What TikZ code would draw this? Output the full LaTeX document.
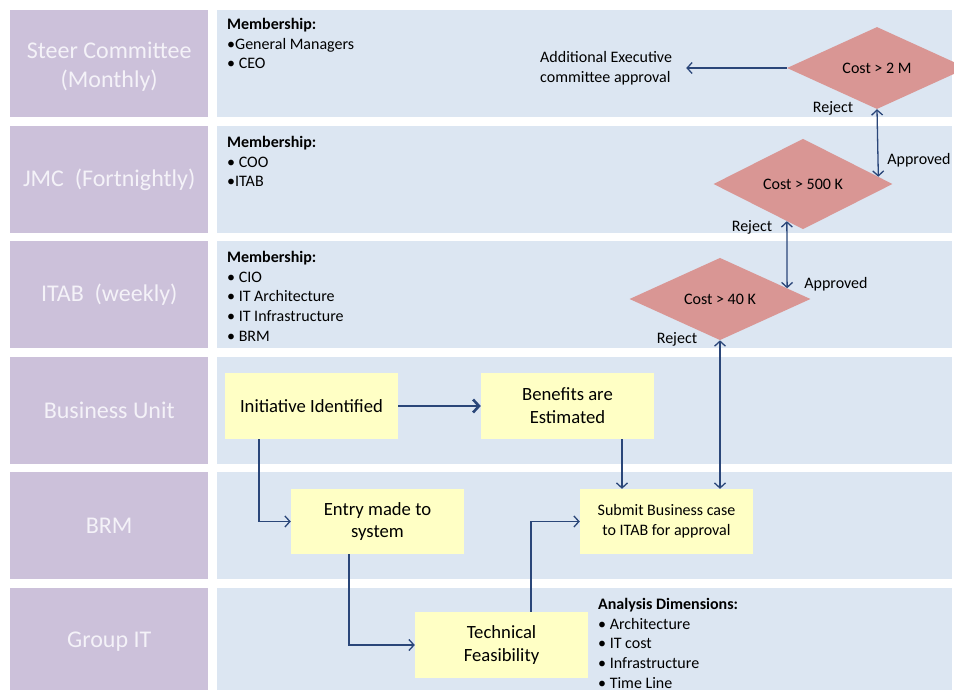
\documentclass[tikz,border=0pt]{standalone}
\usepackage{fontspec}
\setmainfont{Carlito}
\usetikzlibrary{positioning, arrows.meta, shapes.geometric, calc}
\definecolor{LaneHead}{HTML}{CCC1DA}
\definecolor{LaneBg}{HTML}{DCE6F2}
\definecolor{StepYellow}{HTML}{FFFFC5}
\definecolor{CostRed}{HTML}{D99694}
\definecolor{FlowBlue}{HTML}{2A4679}
\definecolor{HeadText}{HTML}{F4F2F8}

\begin{document}
\begin{tikzpicture}[x=1pt, y=-1pt,
            lanehead/.style={fill=LaneHead, text=HeadText, minimum width=198pt, minimum height=107pt, inner sep=0pt, align=center, font=\fontsize{24}{29}\selectfont},
            lanebg/.style={fill=LaneBg, minimum width=735pt, minimum height=107pt, inner sep=0pt},
            stepbox/.style={fill=StepYellow, minimum width=173pt, minimum height=66pt, inner sep=2pt, align=center, font=\fontsize{18.67}{22.8}\selectfont},
            costbox/.style={diamond, fill=CostRed, minimum width=180pt, minimum height=82pt, inner sep=0pt, font=\fontsize{16}{19.5}\selectfont},
            memberlist/.style={anchor=north west, inner sep=0pt, align=left, font=\fontsize{16}{19.7}\selectfont},
            smalllabel/.style={inner sep=0pt, font=\fontsize{16}{19.5}\selectfont},
            flow/.style={draw=FlowBlue, line width=1.3pt, -{Straight Barb[length=5pt, width=11pt]}},
            twoway/.style={flow, {Straight Barb[length=5pt, width=11pt]}-{Straight Barb[length=5pt, width=11pt]}}
        ]
            \useasboundingbox (0,0) rectangle (954,689);
            \clip (0,0) rectangle (954,689);

            % swim lanes
            \foreach \row/\top/\title in {steer/10/{\\[-6pt]Steer Committee\\(Monthly)}, jmc/126/{JMC\ \ (Fortnightly)}, itab/241/{ITAB\ \ (weekly)}, bu/357/{Business Unit}, brm/472/{BRM}, git/588/{Group IT}}{
                \node[lanehead, anchor=north west] (\row-head) at (10,\top) {\title};
                \node[lanebg, anchor=north west] (\row-lane) at (217,\top) {};
            }

            % who sits on each board
            \node[memberlist] (steer-members) at (227,18) {\textbf{Membership:}\\•General Managers\\• CEO};
            \node[memberlist] (jmc-members) at (227,136) {\textbf{Membership:}\\• COO\\•ITAB};
            \node[memberlist] (itab-members) at (227,251) {\textbf{Membership:}\\• CIO\\• IT Architecture\\• IT Infrastructure\\• BRM};
            \node[memberlist] (git-dims) at (598,598) {\textbf{Analysis Dimensions:}\\• Architecture\\• IT cost\\• Infrastructure\\• Time Line};

            % process steps
            \node[stepbox] (init) at (311.5,406) {Initiative Identified};
            \node[stepbox] (bene) at (567.5,406) {Benefits are\\Estimated};
            \node[stepbox, minimum height=65pt] (entry) at (377.5,521.5) {Entry made to\\system};
            \node[stepbox, minimum height=65pt, font=\fontsize{16}{20}\selectfont] (submit) at (666.5,521.5) {Submit Business case\\to ITAB for approval};
            \node[stepbox] (tech) at (501.5,645) {Technical\\Feasibility};

            % approval thresholds
            \node[costbox, minimum width=181pt] (d40) at (720,299) {Cost > 40 K};
            \node[costbox, minimum width=179pt] (d500) at (803,184) {Cost > 500 K};
            \node[costbox] (d2m) at (877,68) {Cost > 2 M};
            \node[smalllabel, anchor=west, align=left] (exec) at (540,68) {Additional Executive\\committee approval};

            % connectors
            \draw[flow, line width=2.6pt, -{Straight Barb[length=6pt, width=13pt]}] (init.east) -- (bene.west);
            \draw[flow] ([xshift=-52.5pt]init.south) |- (entry.west);
            \draw[flow] ([xshift=54.5pt]bene.south) -- ([xshift=54.5pt]bene.south |- submit.north);
            \draw[flow] ([xshift=-28.5pt]entry.south) |- (tech.west);
            \draw[flow] ([xshift=29.5pt]tech.north) |- (submit.west);
            \draw[twoway] (d40.south) -- (d40.south |- submit.north);
            \draw[twoway] ($(d40.north)!.74!(d40.east)$) -- ($(d500.west)!.82!(d500.south)$);
            \draw[twoway] ($(d500.north)!.84!(d500.east)$) -- (d2m.south);
            \draw[flow] (d2m.west) -- ([xshift=14pt]exec.east);

            % decisions
            \node[smalllabel] (rej2m) at (833,108) {Reject};
            \node[smalllabel] (app500) at (919,160) {Approved};
            \node[smalllabel] (rej500) at (752,227) {Reject};
            \node[smalllabel] (app40) at (836,284) {Approved};
            \node[smalllabel] (rej40) at (677,339) {Reject};

        \end{tikzpicture}
\end{document}
